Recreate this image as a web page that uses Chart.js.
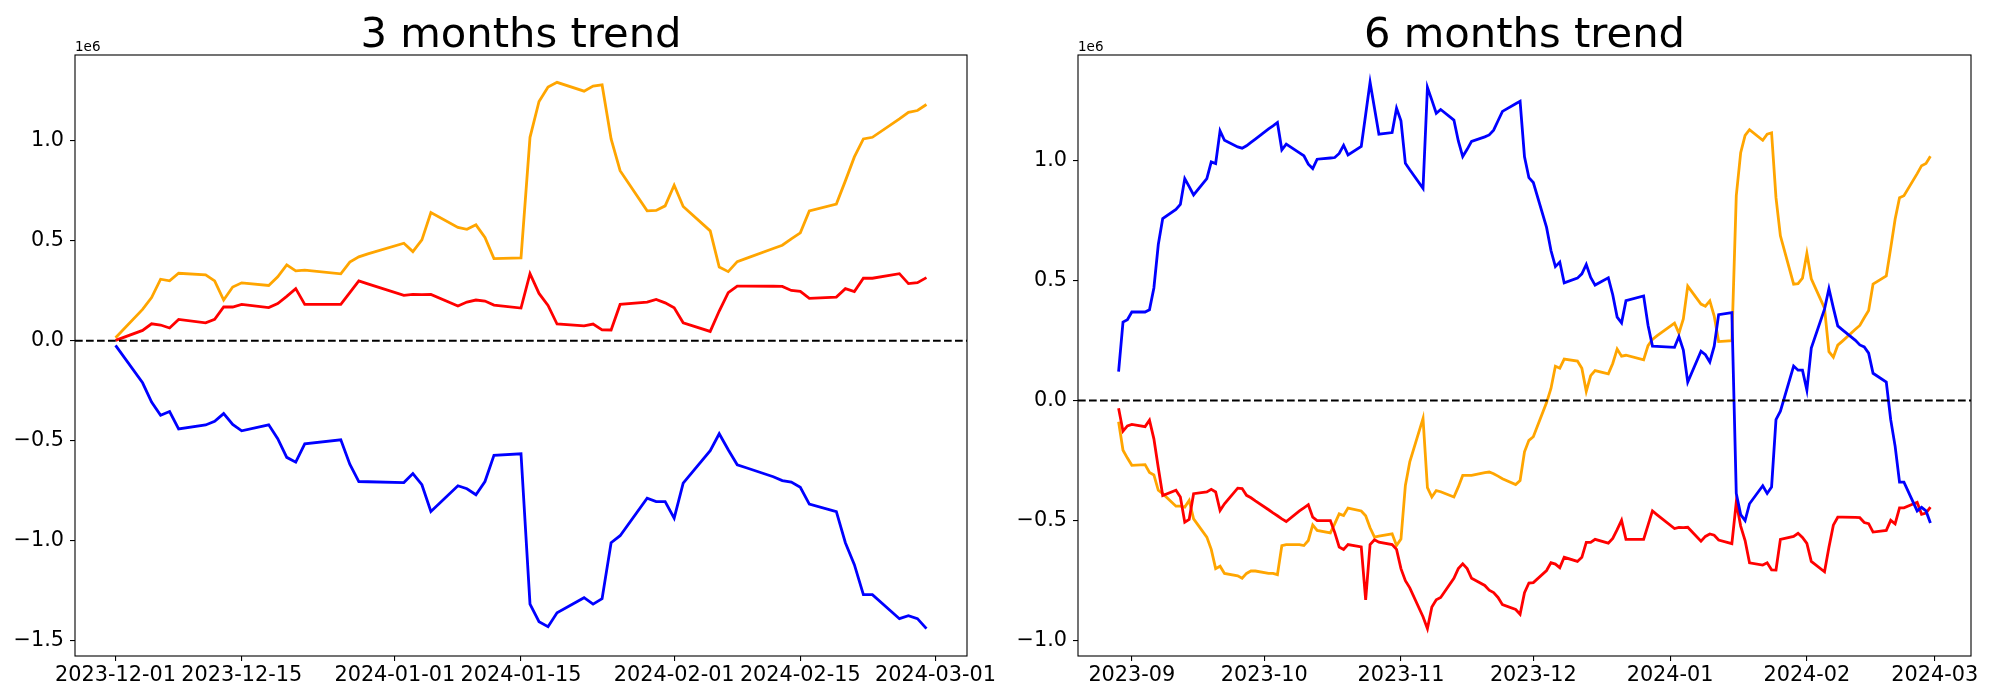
<!DOCTYPE html>
<html>
<head>
<meta charset="utf-8">
<script src="https://cdn.jsdelivr.net/npm/chart.js@4.4.1/dist/chart.umd.min.js"></script>
<style>
  body { margin: 0; background: #fff; }
  #wrap { position: relative; width: 2000px; height: 700px; }
  .box { position: absolute; top: 0; width: 1000px; height: 700px; }
</style>
</head>
<body>
<div id="wrap">
  <div class="box" style="left:0"><canvas id="c3" width="1000" height="700"></canvas></div>
  <div class="box" style="left:1000px"><canvas id="c6" width="1000" height="700"></canvas></div>
</div>
<script>
// values are in units of 1e6

// ---- 3 months ----
var dates3 = [
  '2023-12-01','2023-12-04','2023-12-05','2023-12-06','2023-12-07','2023-12-08',
  '2023-12-11','2023-12-12','2023-12-13','2023-12-14','2023-12-15',
  '2023-12-18','2023-12-19','2023-12-20','2023-12-21','2023-12-22',
  '2023-12-26','2023-12-27','2023-12-28','2023-12-29',
  '2024-01-02','2024-01-03','2024-01-04','2024-01-05',
  '2024-01-08','2024-01-09','2024-01-10','2024-01-11','2024-01-12',
  '2024-01-15','2024-01-16','2024-01-17','2024-01-18','2024-01-19',
  '2024-01-22','2024-01-23','2024-01-24','2024-01-25','2024-01-26',
  '2024-01-29','2024-01-30','2024-01-31','2024-02-01','2024-02-02',
  '2024-02-05','2024-02-06','2024-02-07','2024-02-08','2024-02-09',
  '2024-02-12','2024-02-13','2024-02-14','2024-02-15','2024-02-16',
  '2024-02-19','2024-02-20','2024-02-21','2024-02-22','2024-02-23',
  '2024-02-26','2024-02-27','2024-02-28','2024-02-29'
];
var blue3 = [
  -0.023,-0.21,-0.306,-0.373,-0.354,-0.441,-0.421,-0.403,-0.364,-0.418,-0.45,
  -0.42,-0.49,-0.583,-0.607,-0.515,-0.495,-0.617,-0.704,-0.705,
  -0.709,-0.664,-0.72,-0.854,-0.725,-0.74,-0.77,-0.704,-0.573,
  -0.565,-1.317,-1.405,-1.43,-1.36,-1.285,-1.317,-1.29,-1.01,-0.975,
  -0.787,-0.804,-0.804,-0.887,-0.712,
  -0.55,-0.465,-0.545,-0.62,-0.635,-0.68,-0.699,-0.707,-0.733,-0.817,
  -0.854,-1.01,-1.12,-1.27,-1.27,-1.39,-1.375,-1.39,-1.44
];
var red3 = [
  0.002,0.052,0.085,0.079,0.064,0.107,0.09,0.107,0.169,0.169,0.182,
  0.166,0.186,0.222,0.261,0.182,0.182,0.241,0.30,0.285,
  0.227,0.232,0.231,0.232,0.174,0.194,0.204,0.199,0.179,
  0.164,0.336,0.237,0.177,0.084,0.075,0.084,0.055,0.054,0.182,
  0.194,0.207,0.19,0.165,0.09,
  0.047,0.149,0.241,0.274,0.274,0.273,0.272,0.252,0.247,0.212,
  0.219,0.261,0.246,0.313,0.313,0.336,0.286,0.291,0.316
];
var orange3 = [
  0.015,0.157,0.216,0.308,0.30,0.338,0.33,0.30,0.204,0.269,0.29,
  0.277,0.32,0.38,0.35,0.354,0.335,0.394,0.42,0.435,
  0.488,0.446,0.505,0.642,0.567,0.558,0.58,0.517,0.411,
  0.415,1.018,1.197,1.269,1.293,1.249,1.274,1.28,1.01,0.851,
  0.65,0.652,0.675,0.778,0.672,
  0.55,0.369,0.346,0.396,0.412,0.462,0.478,0.51,0.54,0.65,
  0.684,0.80,0.92,1.01,1.018,1.11,1.143,1.152,1.182
];
var xTicks3 = ['2023-12-01','2023-12-15','2024-01-01','2024-01-15','2024-02-01','2024-02-15','2024-03-01'];
var yTicks3 = [-1.5, -1.0, -0.5, 0.0, 0.5, 1.0];

// ---- 6 months ----
var dates6 = [
  '2023-08-29','2023-08-30','2023-08-31','2023-09-01',
  '2023-09-04','2023-09-05','2023-09-06','2023-09-07','2023-09-08',
  '2023-09-11','2023-09-12','2023-09-13','2023-09-14','2023-09-15',
  '2023-09-18','2023-09-19','2023-09-20','2023-09-21','2023-09-22',
  '2023-09-25','2023-09-26','2023-09-27','2023-09-28','2023-09-29',
  '2023-10-02','2023-10-03','2023-10-04','2023-10-05','2023-10-06',
  '2023-10-09','2023-10-10','2023-10-11','2023-10-12','2023-10-13',
  '2023-10-16','2023-10-17','2023-10-18','2023-10-19','2023-10-20',
  '2023-10-23','2023-10-24','2023-10-25','2023-10-26','2023-10-27',
  '2023-10-30','2023-10-31','2023-11-01','2023-11-02','2023-11-03',
  '2023-11-06','2023-11-07','2023-11-08','2023-11-09','2023-11-10',
  '2023-11-13','2023-11-14','2023-11-15','2023-11-16','2023-11-17',
  '2023-11-20','2023-11-21','2023-11-22','2023-11-23','2023-11-24',
  '2023-11-27','2023-11-28','2023-11-29','2023-11-30','2023-12-01',
  '2023-12-04','2023-12-05','2023-12-06','2023-12-07','2023-12-08',
  '2023-12-11','2023-12-12','2023-12-13','2023-12-14','2023-12-15',
  '2023-12-18','2023-12-19','2023-12-20','2023-12-21','2023-12-22',
  '2023-12-26','2023-12-27','2023-12-28','2023-12-29',
  '2024-01-02','2024-01-03','2024-01-04','2024-01-05',
  '2024-01-08','2024-01-09','2024-01-10','2024-01-11','2024-01-12',
  '2024-01-15','2024-01-16','2024-01-17','2024-01-18','2024-01-19',
  '2024-01-22','2024-01-23','2024-01-24','2024-01-25','2024-01-26',
  '2024-01-29','2024-01-30','2024-01-31','2024-02-01','2024-02-02',
  '2024-02-05','2024-02-06','2024-02-07','2024-02-08','2024-02-09',
  '2024-02-12','2024-02-13','2024-02-14','2024-02-15','2024-02-16',
  '2024-02-19','2024-02-20','2024-02-21','2024-02-22','2024-02-23',
  '2024-02-26','2024-02-27','2024-02-28','2024-02-29'
];
var blue6 = [
  0.12,0.326,0.336,0.368,
  0.368,0.377,0.468,0.649,0.757,
  0.795,0.816,0.923,0.89,0.855,
  0.923,0.993,0.986,1.122,1.083,
  1.055,1.05,1.06,1.074,1.088,
  1.13,1.143,1.157,1.043,1.067,
  1.03,1.018,0.983,0.965,1.004,
  1.009,1.011,1.028,1.062,1.022,
  1.057,1.19,1.324,1.216,1.108,
  1.115,1.216,1.164,0.987,0.96,
  0.883,1.303,1.25,1.195,1.211,
  1.167,1.08,1.015,1.045,1.078,
  1.097,1.105,1.125,1.164,1.203,
  1.235,1.245,1.014,0.927,0.907,
  0.72,0.624,0.557,0.576,0.489,
  0.509,0.527,0.566,0.512,0.48,
  0.51,0.44,0.347,0.323,0.415,
  0.435,0.313,0.226,0.225,
  0.221,0.266,0.21,0.076,
  0.205,0.19,0.16,0.226,0.357,
  0.365,-0.387,-0.475,-0.5,-0.43,
  -0.355,-0.387,-0.36,-0.08,-0.045,
  0.143,0.126,0.126,0.043,0.218,
  0.38,0.465,0.385,0.31,0.295,
  0.25,0.231,0.223,0.197,0.113,
  0.076,-0.08,-0.19,-0.34,-0.34,
  -0.46,-0.445,-0.46,-0.51
];
var red6 = [
  -0.033,-0.128,-0.106,-0.10,
  -0.109,-0.082,-0.16,-0.28,-0.396,
  -0.374,-0.402,-0.507,-0.495,-0.388,
  -0.381,-0.37,-0.381,-0.458,-0.43,
  -0.365,-0.367,-0.395,-0.405,-0.418,
  -0.455,-0.468,-0.48,-0.493,-0.504,
  -0.46,-0.447,-0.434,-0.486,-0.5,
  -0.5,-0.55,-0.61,-0.62,-0.6,
  -0.61,-0.83,-0.60,-0.58,-0.59,
  -0.60,-0.62,-0.70,-0.75,-0.78,
  -0.90,-0.95,-0.86,-0.83,-0.82,
  -0.74,-0.70,-0.68,-0.70,-0.74,
  -0.77,-0.79,-0.80,-0.82,-0.85,
  -0.87,-0.89,-0.80,-0.76,-0.758,
  -0.708,-0.675,-0.681,-0.696,-0.653,
  -0.67,-0.653,-0.591,-0.591,-0.578,
  -0.594,-0.574,-0.538,-0.499,-0.578,
  -0.578,-0.519,-0.46,-0.475,
  -0.533,-0.528,-0.529,-0.528,
  -0.586,-0.566,-0.556,-0.561,-0.581,
  -0.596,-0.424,-0.523,-0.583,-0.676,
  -0.685,-0.676,-0.705,-0.706,-0.578,
  -0.566,-0.553,-0.57,-0.595,-0.67,
  -0.713,-0.611,-0.519,-0.486,-0.486,
  -0.487,-0.488,-0.508,-0.513,-0.548,
  -0.541,-0.499,-0.514,-0.447,-0.447,
  -0.424,-0.474,-0.469,-0.444
];
var orange6 = [
  -0.089,-0.207,-0.24,-0.27,
  -0.267,-0.30,-0.31,-0.374,-0.388,
  -0.44,-0.44,-0.444,-0.416,-0.493,
  -0.569,-0.62,-0.70,-0.69,-0.72,
  -0.73,-0.74,-0.72,-0.71,-0.71,
  -0.72,-0.72,-0.725,-0.604,-0.60,
  -0.60,-0.604,-0.583,-0.518,-0.541,
  -0.551,-0.513,-0.472,-0.479,-0.448,
  -0.46,-0.48,-0.53,-0.569,-0.565,
  -0.555,-0.604,-0.577,-0.354,-0.256,
  -0.075,-0.363,-0.402,-0.375,-0.38,
  -0.402,-0.36,-0.312,-0.312,-0.312,
  -0.30,-0.298,-0.305,-0.315,-0.326,
  -0.35,-0.333,-0.214,-0.166,-0.151,
  -0.009,0.05,0.142,0.134,0.172,
  0.164,0.134,0.038,0.103,0.124,
  0.111,0.154,0.214,0.184,0.188,
  0.169,0.228,0.254,0.269,
  0.322,0.28,0.339,0.476,
  0.401,0.392,0.414,0.351,0.245,
  0.249,0.852,1.031,1.103,1.127,
  1.083,1.108,1.114,0.844,0.685,
  0.484,0.486,0.509,0.612,0.506,
  0.384,0.203,0.18,0.23,0.246,
  0.296,0.312,0.344,0.374,0.484,
  0.518,0.634,0.754,0.844,0.852,
  0.944,0.977,0.986,1.016
];
var xTicks6 = ['2023-09-01','2023-10-01','2023-11-01','2023-12-01','2024-01-01','2024-02-01','2024-03-01'];
var yTicks6 = [-1.0, -0.5, 0.0, 0.5, 1.0];

Chart.defaults.font.family = 'DejaVu Sans';
Chart.defaults.color = '#000';

function ts(s) { return Date.parse(s + 'T00:00:00Z'); }

function makeChart(id, title, dates, blue, red, orange, xTicks, labelLen, yTicks, axisW, padR) {
  var xs = dates.map(ts);
  var xMin = xs[0], xMax = xs[xs.length - 1];
  var xPad = (xMax - xMin) * 0.05;
  var all = blue.concat(red, orange);
  var yMin = Math.min.apply(null, all), yMax = Math.max.apply(null, all);
  var yPad = (yMax - yMin) * 0.05;

  function pts(arr) {
    return arr.map(function(v, i) { return { x: xs[i], y: v }; });
  }

  var decor = {
    id: 'decor',
    afterDatasetsDraw: function(chart) {
      var ctx = chart.ctx, a = chart.chartArea;
      var y0 = chart.scales.y.getPixelForValue(0);
      ctx.save();
      ctx.strokeStyle = '#000';
      ctx.lineWidth = 2.1;
      ctx.setLineDash([7.7, 3.3]);
      ctx.beginPath();
      ctx.moveTo(a.left, y0);
      ctx.lineTo(a.right, y0);
      ctx.stroke();
      ctx.setLineDash([]);
      ctx.lineWidth = 1.1;
      ctx.strokeRect(a.left, a.top, a.right - a.left, a.bottom - a.top);
      ctx.restore();
    },
    afterDraw: function(chart) {
      var ctx = chart.ctx, a = chart.chartArea;
      ctx.save();
      ctx.fillStyle = '#000';
      ctx.textBaseline = 'alphabetic';
      ctx.textAlign = 'center';
      ctx.font = '41.7px "DejaVu Sans"';
      ctx.fillText(title, (a.left + a.right) / 2, a.top - 8.3);
      ctx.textAlign = 'left';
      ctx.font = '13.5px "DejaVu Sans"';
      ctx.fillText('1e6', a.left, a.top - 4.5);
      ctx.restore();
    }
  };

  return new Chart(document.getElementById(id), {
    type: 'line',
    data: {
      datasets: [
        { data: pts(blue), borderColor: 'blue' },
        { data: pts(red), borderColor: 'red' },
        { data: pts(orange), borderColor: 'orange' }
      ]
    },
    options: {
      responsive: false,
      animation: false,
      layout: { padding: { top: 55, left: 0, right: padR, bottom: 0 } },
      elements: {
        line: { borderWidth: 2.8, tension: 0, fill: false },
        point: { radius: 0 }
      },
      plugins: { legend: { display: false }, tooltip: { enabled: false } },
      scales: {
        x: {
          type: 'linear',
          min: xMin - xPad,
          max: xMax + xPad,
          border: { display: false },
          grid: { drawOnChartArea: false, drawTicks: true, tickLength: 5, color: '#000', lineWidth: 1.1 },
          ticks: {
            autoSkip: false, maxRotation: 0, padding: 2,
            font: { size: 20.8 },
            callback: function(v) { return new Date(v).toISOString().slice(0, labelLen); }
          },
          afterBuildTicks: function(s) { s.ticks = xTicks.map(function(d) { return { value: ts(d) }; }); },
          afterFit: function(s) { s.height = 44; }
        },
        y: {
          min: yMin - yPad,
          max: yMax + yPad,
          border: { display: false },
          grid: { drawOnChartArea: false, drawTicks: true, tickLength: 5, color: '#000', lineWidth: 1.1 },
          ticks: {
            padding: 6,
            font: { size: 20.8 },
            callback: function(v) { return v.toFixed(1).replace('-', '\u2212'); }
          },
          afterBuildTicks: function(s) { s.ticks = yTicks.map(function(v) { return { value: v }; }); },
          afterFit: function(s) { s.width = axisW; }
        }
      }
    },
    plugins: [decor]
  });
}

makeChart('c3', '3 months trend', dates3, blue3, red3, orange3, xTicks3, 10, yTicks3, 75, 33);
makeChart('c6', '6 months trend', dates6, blue6, red6, orange6, xTicks6, 7, yTicks6, 78, 29);
</script>
</body>
</html>
